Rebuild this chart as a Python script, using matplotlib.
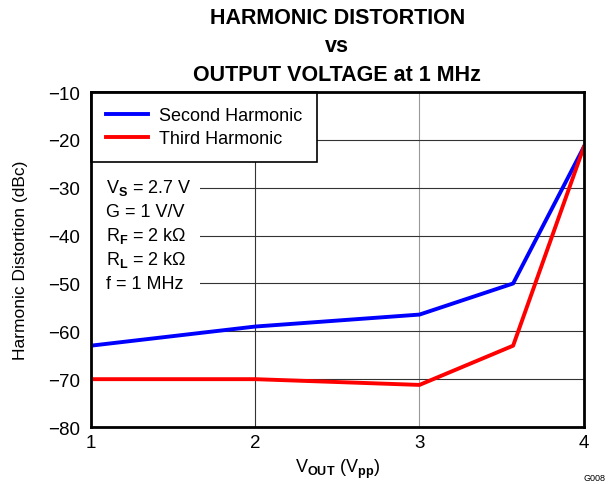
import matplotlib
matplotlib.use("Agg")
import matplotlib.pyplot as plt
from matplotlib.patches import Rectangle

plt.rcParams['font.family'] = ['Liberation Sans', 'DejaVu Sans']
plt.rcParams['mathtext.fontset'] = 'custom'
plt.rcParams['mathtext.rm'] = 'Liberation Sans'
plt.rcParams['mathtext.bf'] = 'Liberation Sans:bold'

vout = [1, 2, 3, 3.57, 4]
second = [-63, -59, -56.5, -50, -21.5]
third = [-70, -70, -71.2, -63, -21.5]
xticks = [1, 2, 3, 4]
yticks = [-80, -70, -60, -50, -40, -30, -20, -10]
ytick_labels = ['\u221280', '\u221270', '\u221260', '\u221250', '\u221240', '\u221230', '\u221220', '\u221210']
conditions = [r'V$_{\mathbf{S}}$ = 2.7 V', 'G = 1 V/V', r'R$_{\mathbf{F}}$ = 2 k' + '\u03a9',
              r'R$_{\mathbf{L}}$ = 2 k' + '\u03a9', 'f = 1 MHz']

fig = plt.figure(figsize=(6.1, 4.85), dpi=100)
ax = fig.add_axes([0.149, 0.1175, 0.808, 0.6905])

ax.plot(vout, second, color='#0000ff', lw=2.8, label='Second Harmonic', zorder=3)
ax.plot(vout, third, color='#ff0000', lw=2.8, label='Third Harmonic', zorder=3)

ax.set_xlim(1, 4)
ax.set_ylim(-80, -10)
ax.set_xticks(xticks)
ax.set_xticklabels([str(t) for t in xticks], fontsize=13.5)
ax.set_yticks(yticks)
ax.set_yticklabels(ytick_labels, fontsize=13.5)
ax.tick_params(axis='y', length=0, pad=8)
ax.tick_params(axis='x', length=0, pad=5)
ax.grid(True, color='#333333', lw=0.8, zorder=0)
for g in ax.get_xgridlines():
    if abs(g.get_xdata()[0] - 3) < 1e-6:
        g.set_color('#999999')
for s in ax.spines.values():
    s.set_linewidth(2)
    s.set_zorder(5)

# white box behind the condition text
ax.add_patch(Rectangle((0, 0.2), 0.222, 0.6, transform=ax.transAxes,
                       facecolor='white', edgecolor='none', zorder=2))
y0 = 0.716
for i, t in enumerate(conditions):
    ax.text(0.03, y0 - i * 0.0715, t, transform=ax.transAxes, fontsize=13,
            va='center', ha='left', zorder=2.5)

leg = ax.legend(loc='upper left', fontsize=13, frameon=True, fancybox=False,
                framealpha=1, edgecolor='black', borderaxespad=0,
                handlelength=2.3, handletextpad=0.6, borderpad=0.85, labelspacing=0.3)
leg.get_frame().set_linewidth(1.2)
leg.set_zorder(4)

ax.set_title('HARMONIC DISTORTION\nvs\nOUTPUT VOLTAGE at 1 MHz',
             fontsize=15.5, fontweight='bold', pad=9, linespacing=1.45)
ax.set_ylabel('Harmonic Distortion (dBc)', fontsize=12.5, labelpad=14)
ax.set_xlabel(r'V$_{\mathbf{OUT}}$ (V$_{\mathbf{pp}}$)', fontsize=13, labelpad=4)
fig.text(0.993, 0.004, 'G008', fontsize=6.5, ha='right', va='bottom')

fig.savefig('out.png', dpi=100)
